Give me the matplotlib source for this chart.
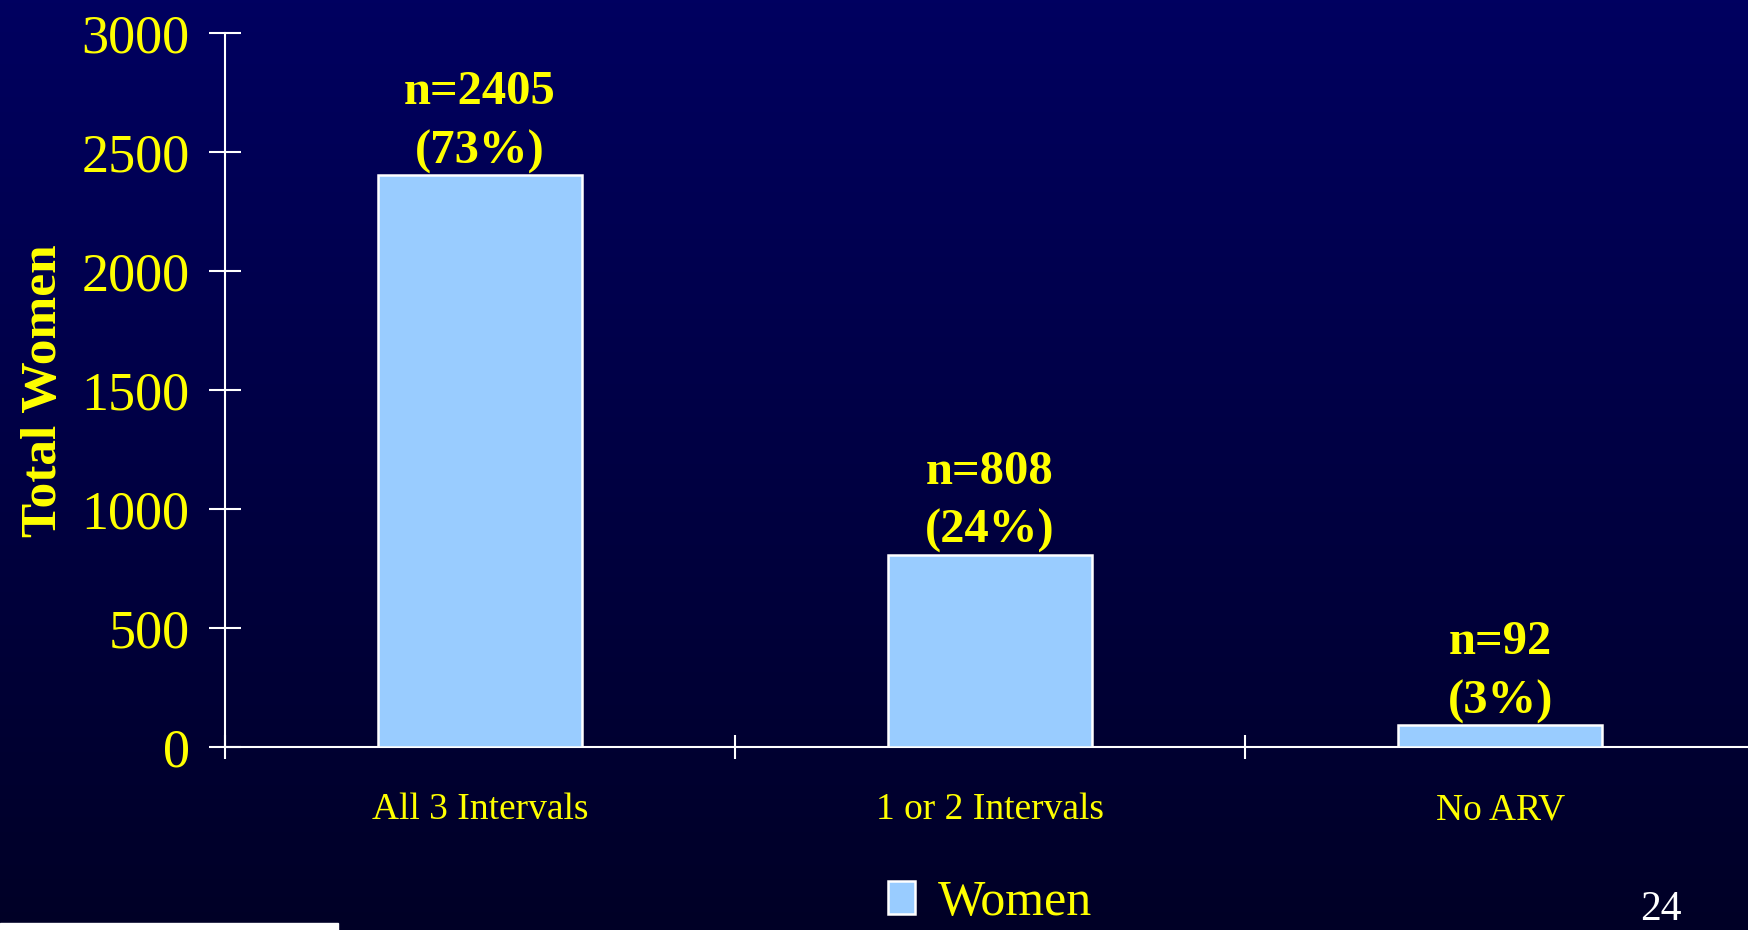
import matplotlib.pyplot as plt
import numpy as np

# data
categories = ['All 3 Intervals', '1 or 2 Intervals', 'No ARV']
women = [2405, 808, 92]
percents = ['73%', '24%', '3%']
y_ticks = [0, 500, 1000, 1500, 2000, 2500, 3000]

yellow = '#ffff00'
plt.rcParams['font.family'] = ['Liberation Serif', 'DejaVu Serif']

fig = plt.figure(figsize=(17.48, 9.30), dpi=100)

# gradient background, navy to nearly black
bg = fig.add_axes([0, 0, 1, 1], zorder=-10)
grad = np.linspace(0, 1, 256).reshape(-1, 1)
top = np.array([0, 0, 96]) / 255
bottom = np.array([0, 0, 38]) / 255
img = top + (bottom - top) * grad[:, :, None]
bg.imshow(img, aspect='auto', extent=[0, 1, 0, 1])
bg.axis('off')

# small white strip bottom-left
bg.add_patch(plt.Rectangle((0, 0), 338 / 1748, 7 / 930, color='white',
                           transform=bg.transAxes, zorder=5))

ax = fig.add_axes([225 / 1748, 1 - 747 / 930, 1 - 225 / 1748, (747 - 33.5) / 930])
ax.patch.set_alpha(0)

x = np.arange(len(categories))
bars = ax.bar(x, women, width=0.40, color='#99ccff', edgecolor='white',
              linewidth=1.8, label='Women', zorder=3)

ax.set_xlim(-0.5, 2.486)
ax.set_ylim(0, 3000)
ax.set_yticks(y_ticks)
ax.set_xticks([-0.5, 0.5, 1.5])
ax.set_xticklabels([])
ax.set_xticks(x, minor=True)
ax.set_xticklabels(categories, minor=True)

for s in ['top', 'right']:
    ax.spines[s].set_visible(False)
for s in ['left', 'bottom']:
    ax.spines[s].set_color('white')
    ax.spines[s].set_linewidth(1.5)

ax.tick_params(axis='y', direction='inout', length=23, width=1.5, colors='white',
               labelcolor=yellow, labelsize=39, pad=14)
ax.tick_params(axis='x', which='major', direction='inout', length=17, width=1.5,
               colors='white')
ax.tick_params(axis='x', which='minor', length=0, labelcolor=yellow,
               labelsize=27, pad=33)

ax.set_ylabel('Total Women', color=yellow, fontsize=37, fontweight='bold', labelpad=10)

# value labels above bars
for i, (v, p) in enumerate(zip(women, percents)):
    ax.annotate('n=%d\n(%s)' % (v, p), xy=(i, v), xytext=(0, 1),
                textcoords='offset points', ha='center', va='bottom',
                color=yellow, fontsize=35, fontweight='bold', linespacing=1.45)

leg = ax.legend(loc='center', bbox_to_anchor=(990 / 1748, 1 - 903 / 930),
                bbox_transform=fig.transFigure, frameon=False, fontsize=36,
                handlelength=0.55, handleheight=0.62, handletextpad=0.45,
                borderpad=0, borderaxespad=0)
for t in leg.get_texts():
    t.set_color(yellow)

fig.text(1661 / 1748, 1 / 930, '24', color='white', fontsize=30, ha='center', va='bottom')

fig.savefig('out.png', dpi=100)
